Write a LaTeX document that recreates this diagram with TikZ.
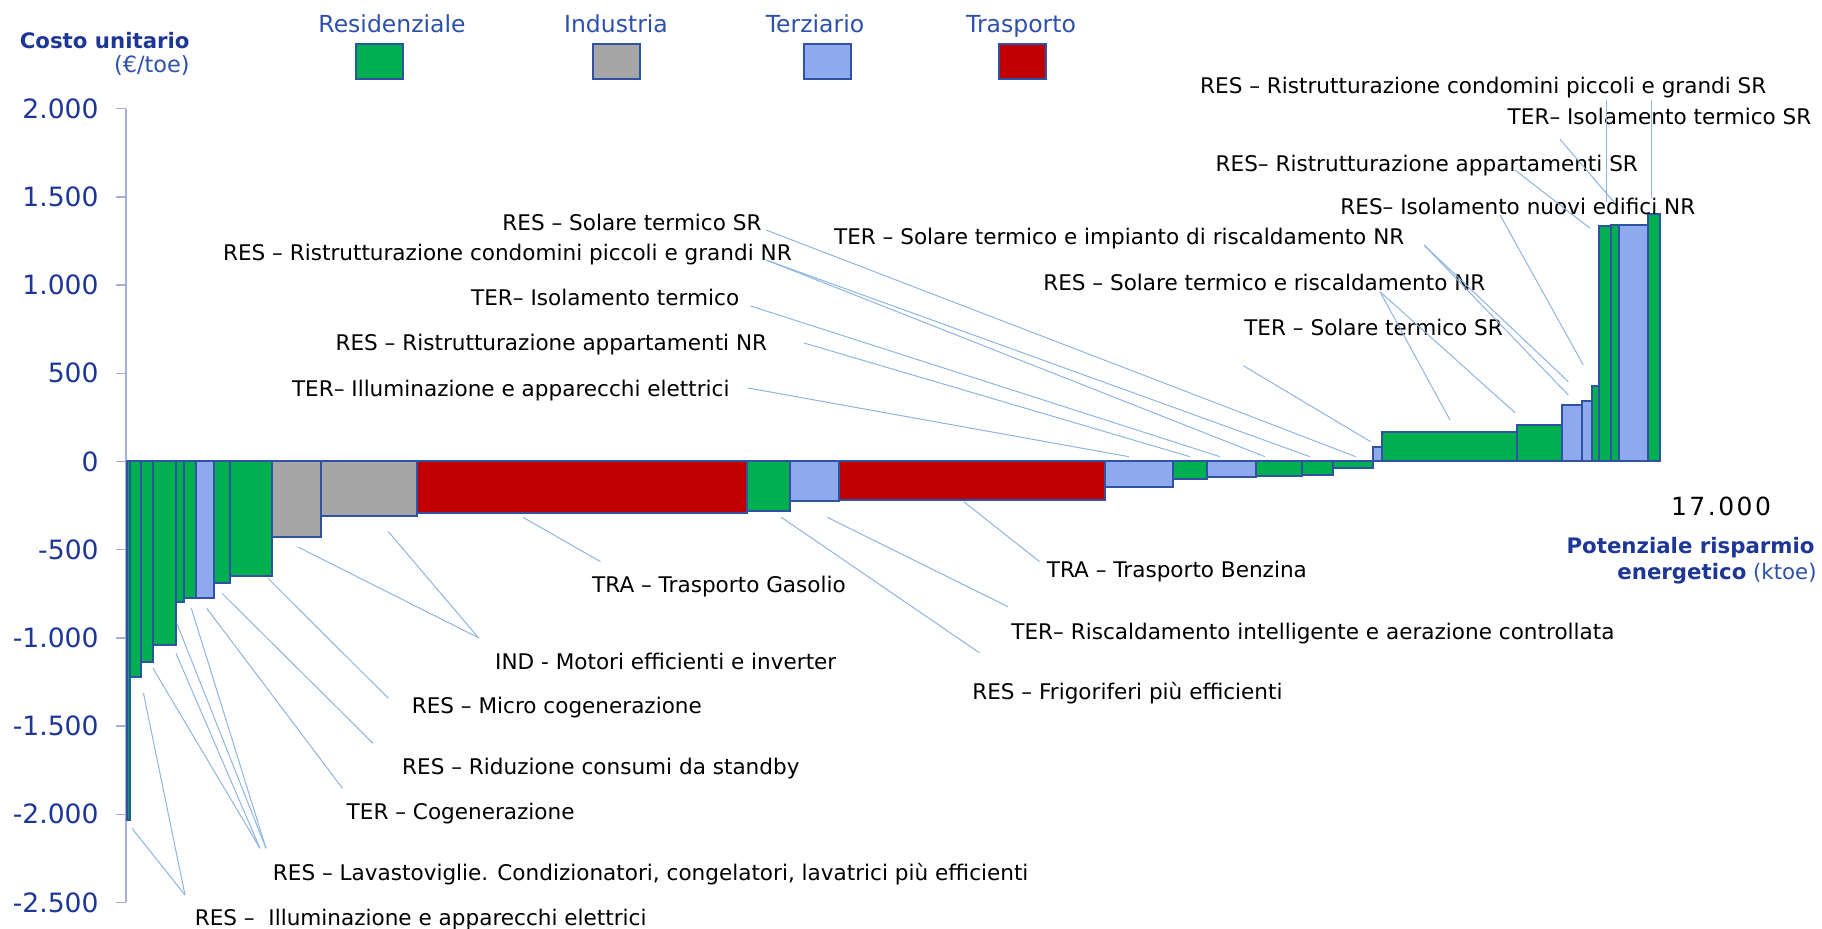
\documentclass[tikz,border=0pt]{standalone}
\usepackage{fontspec}
\setmainfont{DejaVu Sans}
\definecolor{resgreen}{RGB}{0,176,80}
\definecolor{indgray}{RGB}{166,166,166}
\definecolor{terblue}{RGB}{142,169,237}
\definecolor{trared}{RGB}{192,0,0}
\definecolor{edgeblue}{RGB}{47,82,165}
\definecolor{leadblue}{RGB}{141,180,226}
\definecolor{axisgray}{RGB}{165,175,215}
\definecolor{tickblue}{RGB}{30,55,150}
\definecolor{legblue}{RGB}{45,80,170}
\begin{document}
\begin{tikzpicture}[x=0.5pt,y=-0.5pt,
    bar/.style={draw=edgeblue,line width=1pt},
    lead/.style={leadblue,line width=0.5pt},
    lbl/.style={anchor=base west,inner sep=0pt,font=\fontsize{10.78}{12}\selectfont},
    lblr/.style={lbl,anchor=base east},
    tick/.style={anchor=east,inner sep=0pt,text=tickblue,font=\fontsize{13.3}{15}\selectfont},
    legtxt/.style={anchor=base,inner sep=0pt,text=legblue,font=\fontsize{11.75}{14}\selectfont},
    legbox/.style={draw=edgeblue,line width=1pt},
    axtitle/.style={anchor=base east,inner sep=0pt,text=tickblue,font=\fontsize{10.65}{14}\selectfont}]
\useasboundingbox (0,0) rectangle (1822,929);
\draw[axisgray,line width=0.75pt] (126,108.7) -- (126,902.5);
\foreach \v/\t [count=\i] in {2000/2.000,1500/1.500,1000/1.000,500/500,0/0,-500/-500,-1000/-1.000,-1500/-1.500,-2000/-2.000,-2500/-2.500}{
  \draw[axisgray,line width=0.75pt] (115.6,461.5-0.1764*\v) -- (126,461.5-0.1764*\v);
  \node[tick] (tk\i) at (99,461.5-0.1764*\v) {\t};
}
\foreach \xa/\xb/\yb/\col in {126.7/130/820/resgreen,130/141/677/resgreen,141/152.7/661.7/resgreen,
  152.7/176/645.3/resgreen,176/183.7/602/resgreen,183.7/195.7/597.7/resgreen,195.7/214.3/597.7/terblue,
  214.3/229.7/582.7/resgreen,229.7/272/576/resgreen,272/320.7/536.7/indgray,320.7/416.7/516/indgray,
  416.7/747.4/513.5/trared,747.4/789.9/511/resgreen,789.9/838.7/500.7/terblue,838.7/1105/500/trared,
  1105/1172.7/486.7/terblue,1172.7/1207.3/479.5/resgreen,1207.3/1256/477.3/terblue,1256/1302.3/476/resgreen,
  1302.3/1333/475/resgreen,1333/1372.7/468.3/resgreen,1372.7/1381.7/446.7/terblue,1381.7/1517.3/431.7/resgreen,
  1517.3/1562.3/425.3/resgreen,1562.3/1581.7/405/terblue,1581.7/1591.7/401/terblue,1591.7/1599.3/385.7/resgreen,
  1599.3/1611/226/resgreen,1611/1619/224.7/resgreen,1619/1648.3/224.7/terblue,1648.3/1660/214.3/resgreen}
  \draw[bar,fill=\col] (\xa,461.5) rectangle (\xb,\yb);

\node[axtitle,font=\fontsize{10.65}{14}\selectfont\bfseries] (costo) at (190,48.3) {Costo unitario};
\node[axtitle,text=legblue,font=\fontsize{11.2}{14}\selectfont] (euro) at (190,72.5) {(€/toe)};
\node[legtxt] (lres) at (392,32.3) {Residenziale};
\node[legtxt] (lind) at (616,32.3) {Industria};
\node[legtxt] (lter) at (815,32.3) {Terziario};
\node[legtxt] (ltra) at (1021,32.3) {Trasporto};
\draw[legbox,fill=resgreen] (356,44.3) rectangle (403.3,79.3);
\draw[legbox,fill=indgray] (592.6,44.3) rectangle (639.6,79.3);
\draw[legbox,fill=terblue] (804,44.3) rectangle (851,79.3);
\draw[legbox,fill=trared] (999,44.3) rectangle (1046,79.3);
\node[inner sep=0pt,font=\fontsize{12.5}{15}\selectfont\addfontfeatures{LetterSpace=10}] (kmax) at (1721,506.7) {17.000};
\node[axtitle,font=\fontsize{10.65}{14}\selectfont\bfseries] (pot) at (1815,553.3) {Potenziale risparmio};
\node[axtitle] (ener) at (1817,580) {\textbf{energetico} \textcolor{legblue}{(ktoe)}};

\node[lbl] (solresSR) at (502,231) {RES – Solare termico SR};
\node[lbl] (condNR) at (222.7,261) {RES – Ristrutturazione condomini piccoli e grandi NR};
\node[lbl] (isoter) at (470.7,305.7) {TER– Isolamento termico};
\node[lbl] (appNR) at (335.2,351) {RES – Ristrutturazione appartamenti NR};
\node[lbl] (illter) at (291.6,396.7) {TER– Illuminazione e apparecchi elettrici};
\node[lblr] (condSR) at (1766.7,93.3) {RES – Ristrutturazione condomini piccoli e grandi SR};
\node[lblr] (isoterSR) at (1811.7,125) {TER– Isolamento termico SR};
\node[lblr] (appSR) at (1638.3,171.7) {RES– Ristrutturazione appartamenti SR};
\node[lbl] (isonuovi) at (1340,215) {RES– Isolamento nuovi edifici NR};
\node[lbl] (solterNR) at (833.7,245) {TER – Solare termico e impianto di riscaldamento NR};
\node[lbl] (solresNR) at (1042.9,290.7) {RES – Solare termico e riscaldamento NR};
\node[lbl] (solterSR) at (1243.9,336) {TER – Solare termico SR};
\node[lbl] (gasolio) at (591.8,592.7) {TRA – Trasporto Gasolio};
\node[lbl] (benzina) at (1046.5,577.3) {TRA – Trasporto Benzina};
\node[lbl] (riscter) at (1011,639.3) {TER– Riscaldamento intelligente e aerazione controllata};
\node[lbl] (frigo) at (971.9,699.3) {RES – Frigoriferi più efficienti};
\node[lbl] (motori) at (494.8,669.3) {IND - Motori efficienti e inverter};
\node[lbl] (micro) at (411.4,714) {RES – Micro cogenerazione};
\node[lbl] (standby) at (401.8,775) {RES – Riduzione consumi da standby};
\node[lbl] (cogter) at (346.3,820) {TER – Cogenerazione};
\node[lbl] (lavasto) at (272.5,881) {RES – Lavastoviglie. Condizionatori, congelatori, lavatrici più efficienti};
\node[lbl] (illres) at (194.4,926) {RES –~~Illuminazione e apparecchi elettrici};

\coordinate (solresSRa) at (766,230);
\coordinate (solresSRb) at (1355.7,456.7);
\coordinate (condNRa) at (766,260);
\coordinate (condNRb) at (1265,456.7);
\coordinate (condNRc) at (1310,456.7);
\coordinate (isotera) at (750.5,306);
\coordinate (isoterb) at (1220,456.7);
\coordinate (appNRa) at (804,343);
\coordinate (appNRb) at (1190,456.7);
\coordinate (illtera) at (748,388);
\coordinate (illterb) at (1129,456.7);
\coordinate (solterSRa) at (1243.3,365.7);
\coordinate (solterSRb) at (1370.7,441.7);
\coordinate (solresNRa) at (1380,291.7);
\coordinate (solresNRb) at (1450,420);
\coordinate (solresNRc) at (1515,412.7);
\coordinate (solterNRa) at (1424,245);
\coordinate (solterNRb) at (1568.3,381.7);
\coordinate (solterNRc) at (1568.3,395);
\coordinate (isonuovia) at (1500,215);
\coordinate (isonuovib) at (1583.3,365);
\coordinate (appSRa) at (1515,170);
\coordinate (appSRb) at (1590,228.3);
\coordinate (isoterSRa) at (1560,139.3);
\coordinate (isoterSRb) at (1615,203.3);
\coordinate (condSRa) at (1606,100);
\coordinate (condSRb) at (1606,201.7);
\coordinate (condSRc) at (1651.3,100);
\coordinate (condSRd) at (1651.3,198);
\coordinate (gasolioa) at (523,517.3);
\coordinate (gasoliob) at (600.5,561.7);
\coordinate (benzinaa) at (963.8,501.7);
\coordinate (benzinab) at (1039.6,561.7);
\coordinate (risctera) at (827.2,517.3);
\coordinate (riscterb) at (1008,606.7);
\coordinate (frigoa) at (781.3,517.3);
\coordinate (frigob) at (979.3,652.7);
\coordinate (motoria) at (298.5,547.3);
\coordinate (motorib) at (388.4,531.7);
\coordinate (motoric) at (478.4,637.7);
\coordinate (microa) at (268,578.3);
\coordinate (microb) at (388.4,698.3);
\coordinate (standbya) at (222,593.3);
\coordinate (standbyb) at (373,743.3);
\coordinate (cogtera) at (206.7,608.3);
\coordinate (cogterb) at (342.5,788.3);
\coordinate (lavastoa) at (153,668.3);
\coordinate (lavastob) at (176,653.3);
\coordinate (lavastoc) at (176.8,623.3);
\coordinate (lavastod) at (191.3,608.3);
\coordinate (lavastoe) at (260,848.3);
\coordinate (lavastof) at (266,848.3);
\coordinate (illresa) at (132,828.3);
\coordinate (illresb) at (143.5,693.3);
\coordinate (illresc) at (185,895);

\draw[lead] (solresSRa) -- (solresSRb);
\draw[lead] (condNRa) -- (condNRb);
\draw[lead] (condNRa) -- (condNRc);
\draw[lead] (isotera) -- (isoterb);
\draw[lead] (appNRa) -- (appNRb);
\draw[lead] (illtera) -- (illterb);
\draw[lead] (solterSRa) -- (solterSRb);
\draw[lead] (solresNRa) -- (solresNRb);
\draw[lead] (solresNRa) -- (solresNRc);
\draw[lead] (solterNRa) -- (solterNRb);
\draw[lead] (solterNRa) -- (solterNRc);
\draw[lead] (isonuovia) -- (isonuovib);
\draw[lead] (appSRa) -- (appSRb);
\draw[lead] (isoterSRa) -- (isoterSRb);
\draw[lead] (condSRa) -- (condSRb);
\draw[lead] (condSRc) -- (condSRd);
\draw[lead] (gasolioa) -- (gasoliob);
\draw[lead] (benzinaa) -- (benzinab);
\draw[lead] (risctera) -- (riscterb);
\draw[lead] (frigoa) -- (frigob);
\draw[lead] (motoria) -- (motoric);
\draw[lead] (motorib) -- (motoric);
\draw[lead] (microa) -- (microb);
\draw[lead] (standbya) -- (standbyb);
\draw[lead] (cogtera) -- (cogterb);
\draw[lead] (lavastoa) -- (lavastoe);
\draw[lead] (lavastob) -- (lavastoe);
\draw[lead] (lavastoc) -- (lavastof);
\draw[lead] (lavastod) -- (lavastof);
\draw[lead] (illresa) -- (illresc);
\draw[lead] (illresb) -- (illresc);
\end{tikzpicture}
\end{document}
